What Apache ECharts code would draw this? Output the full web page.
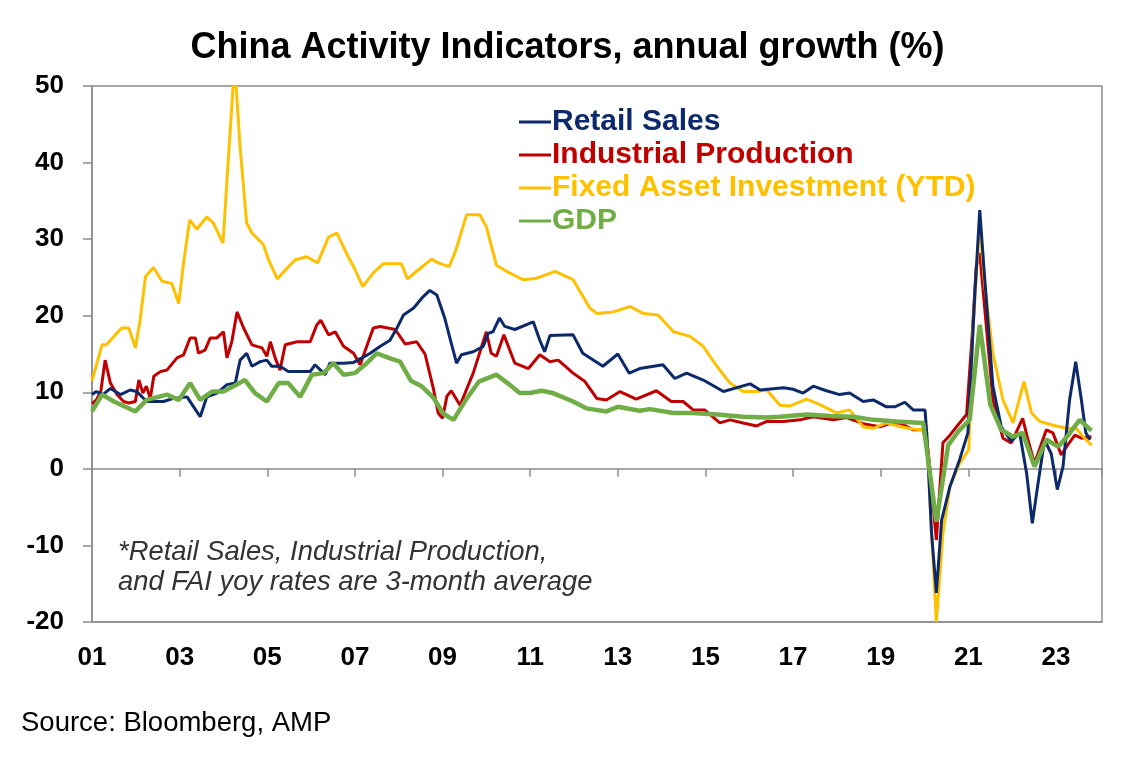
<!DOCTYPE html>
<html lang="en">
<head>
	<meta charset="UTF-8">
	<title>China Activity Indicators</title>
	<script src="https://cdn.jsdelivr.net/npm/echarts@6/dist/echarts.min.js"></script>
	<style>
		html, body { margin: 0; padding: 0; background: #fff; }
		#main { width: 1135px; height: 757px; }
	</style>
</head>
<body>
<div id="main"></div>
<script>
// [decimal year, annual growth %]
var retailSales = [
	[2001.0, 9.7], [2001.1, 10.1], [2001.25, 9.7], [2001.42, 10.5], [2001.65, 9.7], [2001.87, 10.3],
	[2002.02, 10.1], [2002.25, 8.8], [2002.63, 8.8], [2002.86, 9.2], [2003.17, 9.4], [2003.32, 8.1],
	[2003.47, 6.8], [2003.62, 9.4], [2003.85, 9.9], [2004.08, 11.0], [2004.27, 11.2], [2004.38, 14.2],
	[2004.53, 15.1], [2004.65, 13.4], [2004.84, 14.0], [2004.99, 14.2], [2005.1, 13.4], [2005.29, 13.4],
	[2005.48, 12.7], [2005.75, 12.7], [2005.98, 12.7], [2006.09, 13.6], [2006.32, 12.3], [2006.43, 13.8],
	[2006.74, 13.8], [2006.97, 13.9], [2007.16, 14.5], [2007.35, 15.1], [2007.58, 16.0], [2007.8, 16.8],
	[2007.96, 18.4], [2008.11, 20.1], [2008.34, 21.0], [2008.56, 22.5], [2008.71, 23.3], [2008.87, 22.7],
	[2009.05, 19.7], [2009.2, 16.4], [2009.32, 13.8], [2009.43, 14.9], [2009.7, 15.3], [2009.93, 16.0],
	[2010.04, 17.7], [2010.15, 17.9], [2010.3, 19.7], [2010.42, 18.6], [2010.65, 18.2], [2011.07, 19.2],
	[2011.22, 16.8], [2011.33, 15.3], [2011.45, 17.4], [2011.98, 17.5], [2012.2, 15.1], [2012.66, 13.4],
	[2013.0, 15.0], [2013.26, 12.5], [2013.5, 13.1], [2014.03, 13.6], [2014.3, 11.8], [2014.57, 12.5],
	[2014.95, 11.6], [2015.41, 10.1], [2016.02, 11.1], [2016.25, 10.3], [2016.78, 10.6], [2017.0, 10.4],
	[2017.23, 9.9], [2017.46, 10.8], [2017.76, 10.2], [2018.06, 9.7], [2018.29, 9.9], [2018.6, 8.8],
	[2018.83, 9.0], [2019.13, 8.1], [2019.32, 8.1], [2019.55, 8.7], [2019.74, 7.7], [2020.01, 7.7],
	[2020.05, 4.7], [2020.16, -8.4], [2020.27, -16.2], [2020.39, -6.7], [2020.58, -2.3], [2020.8, 1.2],
	[2020.99, 4.7], [2021.14, 22.0], [2021.26, 33.8], [2021.37, 25.1], [2021.56, 10.8], [2021.75, 5.5],
	[2021.98, 3.6], [2022.17, 4.7], [2022.33, -0.6], [2022.46, -7.1], [2022.59, -1.9], [2022.74, 3.8],
	[2022.89, 2.0], [2023.03, -2.7], [2023.16, 0.3], [2023.31, 9.0], [2023.45, 14.0], [2023.58, 9.0],
	[2023.68, 4.7], [2023.78, 3.8]
];
var industrialProduction = [
	[2001.0, 8.5], [2001.1, 9.0], [2001.2, 10.1], [2001.3, 14.2], [2001.42, 11.2], [2001.57, 9.7],
	[2001.72, 8.8], [2001.84, 8.6], [2001.99, 8.8], [2002.07, 11.6], [2002.16, 9.9], [2002.24, 10.8],
	[2002.33, 9.2], [2002.41, 12.1], [2002.56, 12.7], [2002.71, 12.9], [2002.94, 14.5], [2003.09, 14.9],
	[2003.24, 17.1], [2003.36, 17.1], [2003.43, 15.1], [2003.58, 15.5], [2003.7, 17.1], [2003.85, 17.1],
	[2004.0, 17.9], [2004.08, 14.5], [2004.19, 16.6], [2004.31, 20.5], [2004.46, 18.4], [2004.65, 16.2],
	[2004.88, 15.8], [2004.99, 14.7], [2005.07, 16.6], [2005.18, 14.5], [2005.29, 12.9], [2005.41, 16.2],
	[2005.68, 16.6], [2005.98, 16.6], [2006.13, 18.8], [2006.22, 19.4], [2006.4, 17.5], [2006.55, 17.9],
	[2006.74, 16.0], [2006.97, 15.1], [2007.12, 13.6], [2007.27, 16.0], [2007.42, 18.4], [2007.58, 18.6],
	[2007.92, 18.2], [2008.15, 16.3], [2008.41, 16.6], [2008.6, 15.0], [2008.79, 10.5], [2008.9, 7.3],
	[2009.0, 6.6], [2009.1, 9.5], [2009.2, 10.2], [2009.4, 8.3], [2009.7, 12.5], [2010.0, 17.9],
	[2010.11, 15.1], [2010.23, 14.7], [2010.4, 17.5], [2010.65, 13.8], [2010.96, 13.1], [2011.22, 14.9],
	[2011.45, 14.0], [2011.64, 14.2], [2011.98, 12.5], [2012.25, 11.4], [2012.52, 9.2], [2012.74, 9.0],
	[2013.05, 10.1], [2013.42, 9.1], [2013.88, 10.2], [2014.22, 8.8], [2014.49, 8.8], [2014.72, 7.7],
	[2014.98, 7.7], [2015.33, 6.0], [2015.56, 6.4], [2015.86, 6.0], [2016.17, 5.6], [2016.4, 6.2],
	[2016.78, 6.2], [2017.16, 6.4], [2017.46, 6.8], [2017.92, 6.4], [2018.22, 6.7], [2018.6, 5.9],
	[2018.98, 5.5], [2019.21, 5.9], [2019.44, 6.0], [2019.74, 5.1], [2019.97, 5.1], [2020.08, 2.5],
	[2020.27, -9.3], [2020.42, 3.4], [2020.58, 4.4], [2020.73, 5.5], [2020.96, 7.1], [2021.09, 17.7],
	[2021.18, 26.4], [2021.26, 28.2], [2021.37, 21.2], [2021.56, 9.0], [2021.79, 4.0], [2021.98, 3.4],
	[2022.24, 6.6], [2022.36, 3.8], [2022.51, 0.7], [2022.78, 5.1], [2022.93, 4.7], [2023.12, 1.8],
	[2023.24, 2.9], [2023.43, 4.4], [2023.58, 4.0], [2023.81, 4.2]
];
var fixedAssetInvestment = [
	[2001.0, 11.5], [2001.23, 16.2], [2001.33, 16.2], [2001.5, 17.3], [2001.68, 18.4], [2001.84, 18.4],
	[2001.99, 15.8], [2002.1, 19.5], [2002.22, 25.1], [2002.4, 26.3], [2002.6, 24.5], [2002.82, 24.2],
	[2002.98, 21.6], [2003.09, 26.9], [2003.23, 32.5], [2003.39, 31.3], [2003.62, 32.9], [2003.77, 32.1],
	[2003.99, 29.5], [2004.08, 37.7], [2004.22, 50.0], [2004.29, 49.9], [2004.38, 42.0], [2004.53, 32.1],
	[2004.65, 30.8], [2004.91, 29.3], [2005.03, 27.3], [2005.23, 24.8], [2005.45, 26.2], [2005.64, 27.3],
	[2005.9, 27.7], [2006.15, 26.9], [2006.4, 30.3], [2006.59, 30.8], [2006.82, 28.0], [2006.97, 26.4],
	[2007.18, 23.8], [2007.42, 25.6], [2007.65, 26.8], [2008.06, 26.8], [2008.2, 24.8], [2008.45, 26.0],
	[2008.75, 27.4], [2008.9, 26.9], [2009.15, 26.4], [2009.3, 28.5], [2009.55, 33.2], [2009.85, 33.2],
	[2010.0, 31.6], [2010.23, 26.6], [2010.46, 25.8], [2010.84, 24.7], [2011.15, 24.9], [2011.57, 25.8],
	[2011.98, 24.7], [2012.36, 21.0], [2012.52, 20.3], [2012.9, 20.5], [2013.28, 21.2], [2013.58, 20.3],
	[2013.92, 20.1], [2014.27, 17.9], [2014.65, 17.3], [2014.95, 16.0], [2015.26, 13.4], [2015.56, 11.2],
	[2015.86, 10.1], [2016.17, 10.1], [2016.4, 10.3], [2016.7, 8.3], [2016.92, 8.2], [2017.31, 9.1],
	[2017.61, 8.4], [2017.99, 7.3], [2018.29, 7.7], [2018.6, 5.5], [2018.83, 5.3], [2019.13, 6.0],
	[2019.44, 5.5], [2019.74, 5.2], [2019.97, 5.1], [2020.05, 4.7], [2020.16, -8.4], [2020.27, -20.0],
	[2020.42, -8.4], [2020.58, -2.3], [2020.8, 0.7], [2021.01, 2.5], [2021.1, 17.7], [2021.26, 32.1],
	[2021.37, 24.2], [2021.56, 15.1], [2021.79, 9.0], [2022.02, 6.0], [2022.16, 9.0], [2022.27, 11.4],
	[2022.44, 7.3], [2022.63, 6.2], [2022.93, 5.7], [2023.24, 5.3], [2023.46, 5.3], [2023.62, 4.2],
	[2023.81, 3.1]
];
var gdp = [
	[2001.0, 7.5], [2001.23, 9.7], [2001.5, 8.8], [2001.99, 7.5], [2002.25, 9.0], [2002.71, 9.7],
	[2002.98, 9.0], [2003.24, 11.2], [2003.47, 9.0], [2003.74, 10.1], [2004.0, 10.1], [2004.23, 10.8],
	[2004.49, 11.6], [2004.72, 9.9], [2004.99, 8.8], [2005.26, 11.2], [2005.48, 11.2], [2005.75, 9.4],
	[2006.02, 12.3], [2006.28, 12.5], [2006.51, 13.8], [2006.74, 12.3], [2007.0, 12.5], [2007.27, 13.8],
	[2007.5, 15.1], [2007.77, 14.5], [2008.03, 14.0], [2008.28, 11.5], [2008.52, 10.8], [2008.79, 9.3],
	[2009.02, 7.2], [2009.25, 6.4], [2009.53, 9.0], [2009.83, 11.4], [2010.23, 12.3], [2010.53, 11.0],
	[2010.76, 9.9], [2010.99, 9.9], [2011.26, 10.2], [2011.52, 9.9], [2011.98, 8.8], [2012.28, 7.9],
	[2012.74, 7.5], [2013.0, 8.1], [2013.5, 7.6], [2013.73, 7.8], [2014.27, 7.3], [2014.72, 7.3],
	[2015.26, 7.1], [2015.86, 6.8], [2016.4, 6.7], [2016.7, 6.8], [2017.31, 7.1], [2017.84, 6.9],
	[2018.37, 6.8], [2018.83, 6.4], [2019.36, 6.2], [2019.97, 6.0], [2020.27, -6.9], [2020.54, 3.1],
	[2020.77, 4.9], [2021.03, 6.4], [2021.26, 18.8], [2021.5, 8.4], [2021.75, 5.1], [2022.02, 4.2],
	[2022.24, 4.7], [2022.51, 0.3], [2022.78, 3.8], [2023.05, 2.9], [2023.28, 4.4], [2023.54, 6.4],
	[2023.81, 5.0]
];
var seriesNames = ['Retail Sales', 'Industrial Production', 'Fixed Asset Investment (YTD)', 'GDP'];
var seriesColors = ['#0c2a6b', '#c00000', '#ffc000', '#70ad47'];
var seriesData = [retailSales, industrialProduction, fixedAssetInvestment, gdp];
var lineWidths = [3, 3, 3, 4.5];

var fontFamily = '"Liberation Sans", Arial, sans-serif';
var chart = echarts.init(document.getElementById('main'));

var axisCommon = {
	type: 'value',
	min: 2001,
	max: 2024.05,
	interval: 2,
	splitLine: { show: false }
};

var option = {
	animation: false,
	backgroundColor: '#fff',
	title: {
		text: 'China Activity Indicators, annual growth (%)',
		left: 'center',
		top: 25,
		textStyle: { fontFamily: fontFamily, fontSize: 36, fontWeight: 'bold', color: '#000' }
	},
	grid: {
		left: 92, right: 33, top: 86, bottom: 135,
		show: true, borderColor: '#8c8c8c', borderWidth: 1.5
	},
	legend: {
		orient: 'vertical',
		left: 514,
		top: 102,
		icon: 'rect',
		itemWidth: 32,
		itemHeight: 3,
		itemGap: 3,
		textStyle: { fontFamily: fontFamily, fontSize: 30, fontWeight: 'bold', padding: [0, 0, 0, -4] },
		data: seriesNames.map(function (name, i) {
			return { name: name, textStyle: { color: seriesColors[i] } };
		})
	},
	xAxis: [
		Object.assign({}, axisCommon, {
			position: 'bottom',
			axisLine: { onZero: false, lineStyle: { color: '#8c8c8c', width: 1.5 } },
			axisTick: { show: false },
			axisLabel: {
				margin: 23,
				showMaxLabel: false,
				color: '#000',
				fontFamily: fontFamily, fontSize: 26, fontWeight: 'bold',
				formatter: function (v) { return String(v % 100).padStart(2, '0'); }
			}
		}),
		Object.assign({}, axisCommon, {
			position: 'top',
			axisLine: { onZero: true, lineStyle: { color: '#8c8c8c', width: 1.5 } },
			axisTick: { show: true, inside: true, length: 8, lineStyle: { color: '#8c8c8c', width: 1.5 } },
			axisLabel: { show: false }
		})
	],
	yAxis: {
		type: 'value',
		min: -20,
		max: 50,
		interval: 10,
		splitLine: { show: false },
		axisLine: { show: true, lineStyle: { color: '#8c8c8c', width: 1.5 } },
		axisTick: { show: true, length: 9, lineStyle: { color: '#8c8c8c', width: 1.5 } },
		axisLabel: { margin: 28, color: '#000', fontFamily: fontFamily, fontSize: 26, fontWeight: 'bold' }
	},
	graphic: [
		{
			type: 'text', left: 118, top: 537,
			style: {
				text: '*Retail Sales, Industrial Production,\nand FAI yoy rates are 3-month average',
				fontFamily: fontFamily, fontSize: 27.4, fontStyle: 'italic', fill: '#333', lineHeight: 30
			}
		},
		{
			type: 'text', left: 21, top: 709,
			style: { text: 'Source: Bloomberg, AMP', fontFamily: fontFamily, fontSize: 27.5, fill: '#000' }
		}
	],
	series: seriesNames.map(function (name, i) {
		return {
			name: name,
			type: 'line',
			xAxisIndex: 0,
			data: seriesData[i],
			showSymbol: false,
			color: seriesColors[i],
			lineStyle: { width: lineWidths[i], color: seriesColors[i] },
			z: i === 3 ? 4 : (i === 0 ? 3 : 2)
		};
	})
};

chart.setOption(option);
</script>
</body>
</html>
